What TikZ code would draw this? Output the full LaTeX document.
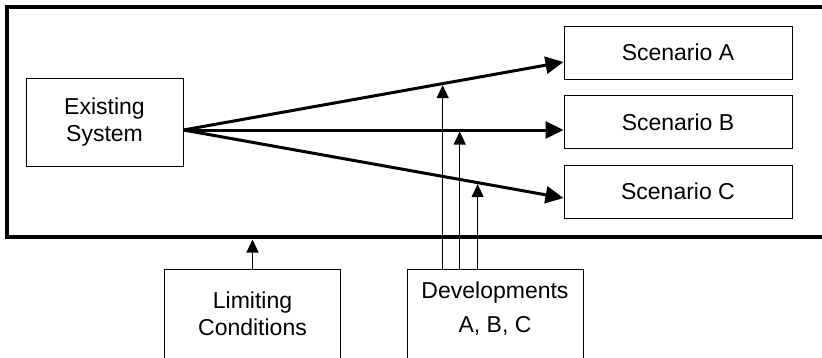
\documentclass[tikz,border=0pt]{standalone}
\usepackage{fontspec}
\setmainfont{Liberation Sans}
\usetikzlibrary{arrows.meta,calc}

\begin{document}
\begin{tikzpicture}
		[x=1pt,y=-1pt,
		%Styles
		every node/.style={font=\fontsize{23}{27}\selectfont},
		frame/.style={line width=4.5pt},
		box/.style={draw,line width=1pt,minimum width=157pt,minimum height=88pt,align=center},
		scen box/.style={draw,line width=1pt,minimum width=228pt,minimum height=53pt},
		open box/.style={draw,line width=1pt,anchor=north,minimum width=176pt,minimum height=110pt},
		main arrow/.style={-{Triangle[length=18pt,width=17pt]},line width=3pt},
		dev arrow/.style={-{Triangle[length=13pt,width=12pt]},line width=1.2pt}
		]
		\useasboundingbox (0,0) rectangle (822,357);
		
		%Frame
		\draw[frame] (822,7) -| (7,237) -- (822,237);
		
		\node[box] (sys) at (104.5,122) {Existing\\System};
		\node[scen box] (a) at (678,52.5) {Scenario A};
		\node[scen box] (b) at (678,122) {Scenario B};
		\node[scen box] (c) at (678,191.5) {Scenario C};
		
		\node[open box] (lim) at (252.5,269) {};
		\node[align=center] (limtext) at (252.5,314) {Limiting\\Conditions};
		\node[open box] (dev) at (495,269) {};
		\node[align=center] (devtext) at (495,309) {Developments\\[7pt]A, B, C};
		
		\coordinate (src) at ($(sys.east)+(0,8)$);
		\coordinate (ta) at ($(a.west)+(0,9.5)$);
		\coordinate (tb) at ($(b.west)+(0,8)$);
		\coordinate (tc) at ($(c.west)+(0,6.5)$);
		\coordinate (limhit) at (252.5,239.5);
		
		\path (src) -- (ta) coordinate[pos=.682] (da);
		\path (src) -- (tb) coordinate[pos=.727] (db);
		\path (src) -- (tc) coordinate[pos=.774] (dc);
		
		\path[main arrow]
			(src) edge (ta)
				edge (tb)
				edge (tc);
		
		\path[dev arrow]
			(lim.north) edge (limhit)
			($(dev.north -| da)$) edge ($(da)+(0,1.5)$)
			($(dev.north -| db)$) edge ($(db)+(0,1.5)$)
			($(dev.north -| dc)$) edge ($(dc)+(0,1.5)$);
	\end{tikzpicture}
\end{document}
